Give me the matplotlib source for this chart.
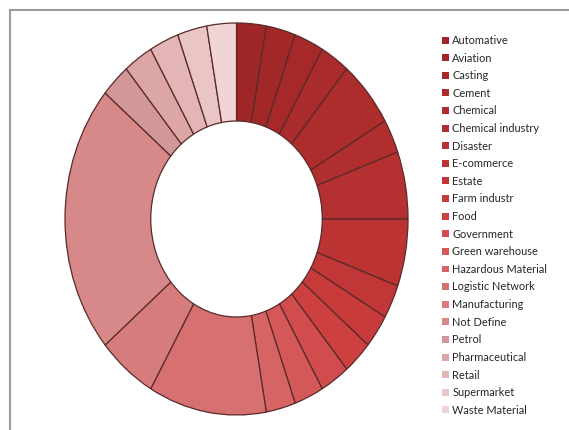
import matplotlib
matplotlib.use("Agg")
import matplotlib.pyplot as plt
import numpy as np
from matplotlib.colors import LinearSegmentedColormap
from matplotlib.lines import Line2D

categories = ["Automative", "Aviation", "Casting", "Cement", "Chemical",
              "Chemical industry", "Disaster", "E-commerce", "Estate",
              "Farm industr", "Food", "Government", "Green warehouse",
              "Hazardous Material", "Logistic Network", "Manufacturing",
              "Not Define", "Petrol", "Pharmaceutical", "Retail",
              "Supermarket", "Waste Material"]
values = [1, 1, 1, 1, 2, 1, 2, 2, 1, 1, 1, 1, 1, 1, 4, 2, 8, 1, 1, 1, 1, 1]

cmap = LinearSegmentedColormap.from_list(
    "reds",
    [(0.0, "#9E2626"), (0.30, "#B63030"), (0.48, "#CF4040"),
     (0.62, "#D66464"), (0.76, "#D88888"), (0.80, "#CF9494"),
     (0.86, "#DCA6A6"), (1.0, "#F1D4D5")])
n = len(categories)
colors = [cmap(i / (n - 1)) for i in range(n)]

plt.rcParams['font.family'] = ['Lato', 'DejaVu Sans']

fig = plt.figure(figsize=(5.69, 4.30), dpi=100)
W, H = 569, 430
ax = fig.add_axes([65 / W, (430 - 415) / H, (408 - 65) / W, (415 - 23) / H])
wedges, _ = ax.pie(values, colors=colors, startangle=90, counterclock=False,
                   radius=1.0,
                   wedgeprops=dict(width=0.5, edgecolor="#5a2a2a", linewidth=0.9))
ax.set_aspect('auto')
ax.set_xlim(-1.0, 1.0)
ax.set_ylim(-1.0, 1.0)
ax.axis('off')

leg = fig.legend(wedges, categories, loc='upper left',
                 bbox_to_anchor=(442 / W, 1 - 35 / H),
                 frameon=False, fontsize=7.9, handlelength=0.6,
                 handleheight=0.6, handletextpad=0.35, labelspacing=0.602,
                 borderpad=0, borderaxespad=0)
for h in leg.legend_handles:
    h.set_edgecolor('none')
for t in leg.get_texts():
    t.set_color("#262626")

fig.add_artist(Line2D([10 / W, 1], [1 - 10 / H, 1 - 10 / H],
                      transform=fig.transFigure, color="#999999", lw=1.5))
fig.add_artist(Line2D([10 / W, 10 / W], [0, 1 - 10 / H],
                      transform=fig.transFigure, color="#999999", lw=1.5))

fig.savefig("out.png", dpi=100)
